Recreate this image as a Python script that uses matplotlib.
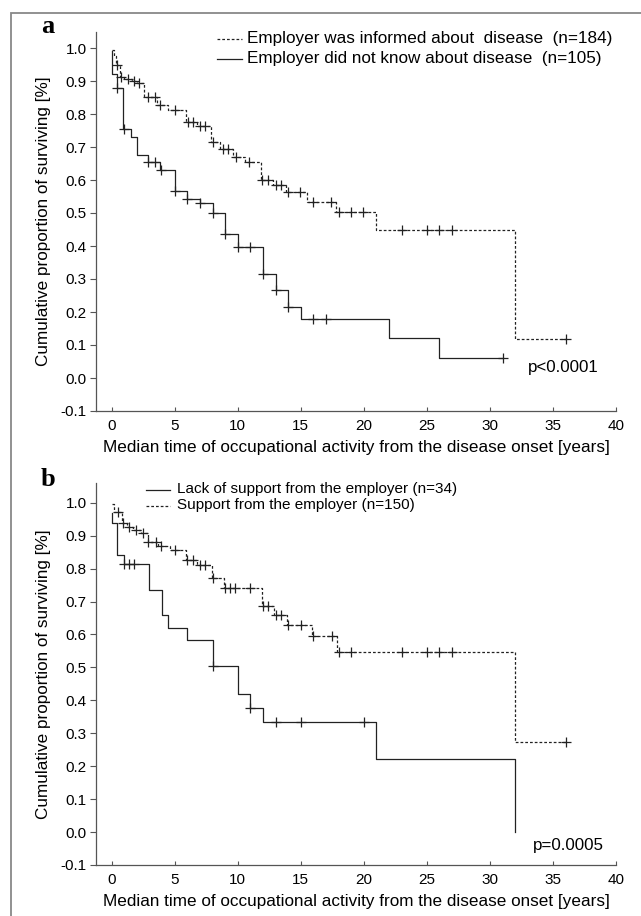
import numpy as np
import matplotlib
matplotlib.use("Agg")
import matplotlib.pyplot as plt
from matplotlib.patches import Rectangle
from matplotlib.lines import Line2D

plt.rcParams["font.family"] = ["Liberation Sans", "DejaVu Sans"]

# panel a - employer informed (dashed)
a_inf_t = [0.0, 0.15, 0.35, 0.7, 1.0, 1.6, 2.0, 2.6, 3.6, 4.5, 5.9, 6.8, 7.9, 8.6,
           9.6, 10.6, 11.85, 12.8, 13.8, 15.5, 17.8, 21.0, 32.0]
a_inf_s = [0.995, 0.975, 0.948, 0.911, 0.905, 0.900, 0.895, 0.852, 0.827, 0.812,
           0.777, 0.764, 0.716, 0.693, 0.671, 0.654, 0.600, 0.585, 0.565, 0.534,
           0.504, 0.450, 0.117]
a_inf_end = 36.0
a_inf_cens = [0.42, 0.77, 1.3, 1.75, 2.2, 2.9, 3.4, 3.8, 5.0, 6.05, 6.45, 7.0, 7.4,
              8.0, 8.8, 9.2, 9.9, 10.9, 11.9, 12.4, 13.0, 13.4, 14.0, 14.9, 16.0,
              17.4, 18.0, 19.0, 19.9, 23.0, 25.0, 26.0, 27.0, 36.0]

# panel a - employer did not know (solid)
a_unk_t = [0.0, 0.0, 0.4, 0.9, 1.5, 2.0, 2.9, 3.8, 5.0, 6.0, 7.0, 8.0, 9.0, 10.0,
           12.0, 13.0, 14.0, 15.0, 22.0, 26.0]
a_unk_s = [0.99, 0.92, 0.88, 0.755, 0.73, 0.675, 0.655, 0.63, 0.567, 0.542, 0.529,
           0.50, 0.437, 0.397, 0.314, 0.266, 0.216, 0.179, 0.12, 0.062]
a_unk_end = 31.0
a_unk_cens = [0.45, 1.0, 2.9, 3.4, 3.9, 5.0, 6.0, 7.0, 8.0, 9.0, 10.0, 11.0, 12.0,
              13.0, 14.0, 16.0, 17.0, 31.0]

# panel b - lack of support (solid)
b_lack_t = [0.0, 0.0, 0.45, 0.95, 3.0, 4.0, 4.5, 6.0, 8.0, 10.0, 11.0, 12.0, 21.0, 32.0]
b_lack_s = [0.97, 0.94, 0.842, 0.814, 0.736, 0.658, 0.619, 0.582, 0.504, 0.418,
            0.378, 0.333, 0.222, 0.0]
b_lack_end = 32.0
b_lack_cens = [1.0, 1.4, 1.8, 8.0, 11.0, 13.0, 15.0, 20.0]

# panel b - support (dashed)
b_sup_t = [0.0, 0.15, 0.85, 1.2, 1.7, 2.3, 2.85, 3.7, 4.6, 5.9, 6.8, 7.95, 8.95,
           11.9, 12.9, 13.9, 15.9, 17.9, 32.0]
b_sup_s = [0.995, 0.973, 0.938, 0.925, 0.917, 0.909, 0.882, 0.869, 0.857, 0.827,
           0.812, 0.771, 0.741, 0.685, 0.660, 0.630, 0.595, 0.547, 0.275]
b_sup_end = 36.0
b_sup_cens = [0.5, 0.9, 1.4, 1.9, 2.5, 2.9, 3.5, 3.95, 5.0, 6.0, 6.45, 7.0, 7.4, 8.0,
              9.0, 9.4, 9.8, 10.95, 12.0, 12.4, 13.0, 13.4, 14.0, 15.0, 16.0, 17.5,
              18.0, 19.0, 23.0, 25.0, 26.0, 27.0, 36.0]

legend_a = ["Employer was informed about  disease  (n=184)",
            "Employer did not know about disease  (n=105)"]
legend_b = ["Lack of support from the employer (n=34)",
            "Support from the employer (n=150)"]

W, H = 641, 916
DASH = (0, (2.2, 1.6))
LC = "#222222"
FS = 12.3


def km(ax, t, s, end, cens, ls):
    x = list(t) + [end]
    y = list(s) + [s[-1]]
    ax.step(x, y, where="post", color=LC, lw=0.9, linestyle=ls)
    idx = np.searchsorted(np.asarray(t), np.asarray(cens), side="right") - 1
    cy = np.asarray(s)[idx]
    ax.plot(cens, cy, linestyle="none", marker="+", markersize=7.5,
            mew=0.9, color=LC)


def setup(ax, top):
    ax.set_xlim(-1.2, 40)
    ax.set_ylim(-0.1, top)
    ax.set_xticks(range(0, 41, 5))
    ax.set_yticks(np.round(np.arange(-0.1, 1.01, 0.1), 1))
    ax.set_yticklabels(["%.1f" % v for v in np.arange(-0.1, 1.01, 0.1)])
    for sp in ["top", "right"]:
        ax.spines[sp].set_visible(False)
    for sp in ["left", "bottom"]:
        ax.spines[sp].set_color("#555555")
        ax.spines[sp].set_linewidth(0.9)
    ax.tick_params(axis="x", direction="in", length=3, width=0.8,
                   color="#555555", labelsize=11, pad=6)
    ax.tick_params(axis="y", direction="out", length=4, width=0.8,
                   color="#555555", labelsize=11, pad=3)
    ax.set_xlabel("Median time of occupational activity from the disease onset [years]",
                  fontsize=FS, labelpad=5)
    ax.set_ylabel("Cumulative proportion of surviving [%]", fontsize=FS, labelpad=7)


def key(fig, x0, x1, xt, y, label, ls, fs):
    # legend row placed in figure pixels
    fig.add_artist(Line2D([x0 / W, x1 / W], [1 - y / H, 1 - y / H],
                          transform=fig.transFigure, color=LC, lw=0.9, linestyle=ls))
    fig.text(xt / W, 1 - y / H, label, fontsize=fs, ha="left", va="center")


fig = plt.figure(figsize=(W / 100, H / 100), dpi=100)

left = 96.5 / W
width = (616 - 96.5) / W
ax1 = fig.add_axes([left, (H - 411) / H, width, (411 - 31.5) / H])
ax2 = fig.add_axes([left, (H - 865) / H, width, (865 - 483) / H])

setup(ax1, 1.05)
setup(ax2, 1.06)

km(ax1, a_inf_t, a_inf_s, a_inf_end, a_inf_cens, DASH)
km(ax1, a_unk_t, a_unk_s, a_unk_end, a_unk_cens, "-")
km(ax2, b_lack_t, b_lack_s, b_lack_end, b_lack_cens, "-")
km(ax2, b_sup_t, b_sup_s, b_sup_end, b_sup_cens, DASH)

key(fig, 217, 242, 247, 39, legend_a[0], DASH, FS)
key(fig, 217, 242, 247, 59, legend_a[1], "-", FS)
key(fig, 146, 170, 177, 489.5, legend_b[0], "-", 11)
key(fig, 146, 170, 177, 505.5, legend_b[1], DASH, 11)

ax1.text(35.8, 0.033, "p<0.0001", fontsize=12.2, ha="center", va="center")
ax2.text(36.2, -0.042, "p=0.0005", fontsize=12.2, ha="center", va="center")

fig.text(48 / W, 1 - 33.3 / H, "a", family=["Liberation Serif"], fontweight="bold",
         fontsize=19, ha="center", va="baseline")
fig.text(48 / W, 1 - 486 / H, "b", family=["Liberation Serif"], fontweight="bold",
         fontsize=19, ha="center", va="baseline")

fig.add_artist(Rectangle((11 / W, -0.05), 1.2, 1 - 13 / H + 0.05,
                         transform=fig.transFigure, fill=False,
                         edgecolor="#888888", lw=1.3))

fig.savefig("out.png", dpi=100)
